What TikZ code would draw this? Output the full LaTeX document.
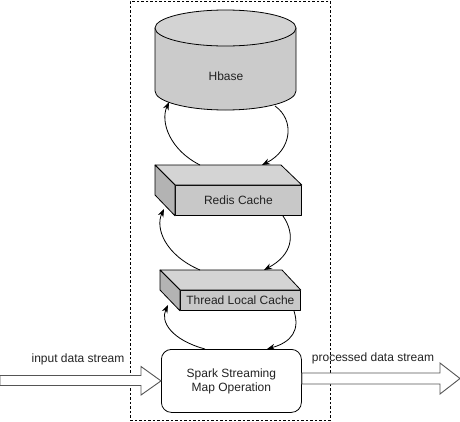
\documentclass[tikz,border=0pt]{standalone}
\usepackage{fontspec}
\setmainfont{Liberation Sans}
\usetikzlibrary{arrows.meta}
\definecolor{topface}{HTML}{D4D4D4}
\definecolor{sideface}{HTML}{B3B3B3}
\definecolor{frontface}{HTML}{C8C8C8}
\definecolor{cylbody}{HTML}{CBCBCB}
\definecolor{cyltop}{HTML}{D3D3D3}
\definecolor{txt}{HTML}{222222}
\definecolor{bigarrow}{HTML}{555555}
\begin{document}
\begin{tikzpicture}[x=1pt,y=-1pt,
  every node/.style={font=\fontsize{12}{14}\selectfont, text=txt},
  shapeline/.style={draw=black, line width=0.8pt, line join=round},
  flow/.style={draw=black, line width=0.8pt, -{Stealth[length=8pt,width=6pt]}},
  blockarrow/.style={draw=bigarrow, fill=white, line width=0.9pt, line join=miter},
  frontbox/.style={shapeline, fill=frontface, inner sep=0pt, anchor=north west}]
\useasboundingbox (0,0) rectangle (460,421);
% dashed container
\node[draw=black, dashed, line width=0.7pt, dash pattern=on 2.5pt off 2pt, minimum width=200pt, minimum height=419pt, anchor=north west, inner sep=0pt] (frame) at (130,1) {};
% Hbase cylinder
\path[shapeline, fill=cylbody] (155,28) -- (155,91) arc[start angle=180, end angle=360, x radius=70.5, y radius=-19] -- (296,28) -- cycle;
\path[shapeline, fill=cyltop] (225.5,28) ellipse[x radius=70.5, y radius=18];
\node (hb) at (226,76) {Hbase};
\coordinate (hbL) at (169,102);
\coordinate (hbR) at (275,106);
% Redis Cache box
\node[frontbox, minimum width=126pt, minimum height=30pt] (rc) at (175,185) {};
\node at (rc.center) {Redis Cache};
\path[shapeline, fill=topface] (rc.north west) -- ++(-20,-20) -- ++(126,0) -- (rc.north east) -- cycle;
\path[shapeline, fill=sideface] (rc.north west) -- ++(-20,-20) -- ++(0,30) -- (rc.south west) -- cycle;
\coordinate (rcT1) at (200,165);
\coordinate (rcT2) at (262,165);
\coordinate (rcL) at (164,209);
\coordinate (rcB) at (283,216);
% Thread Local Cache box
\node[frontbox, minimum width=120pt, minimum height=20pt] (tl) at (180,290) {};
\node at (tl.center) {Thread Local Cache};
\path[shapeline, fill=topface] (tl.north west) -- ++(-20,-20) -- ++(122,0) -- (tl.north east) -- cycle;
\path[shapeline, fill=sideface] (tl.north west) -- ++(-20,-20) -- ++(0,20) -- (tl.south west) -- cycle;
\coordinate (tlT1) at (200,270);
\coordinate (tlT2) at (264,270);
\coordinate (tlL) at (168,305);
\coordinate (tlB) at (294,311);
% Spark box
\node[shapeline, fill=white, rounded corners=10pt, minimum width=140pt, minimum height=63pt, anchor=north west, inner sep=0pt, align=center] (sp) at (161,349) {Spark Streaming\\Map Operation};
\coordinate (spT1) at (205,349);
\coordinate (spT2) at (267,349);
% curved connectors
\draw[flow] (rcT1) .. controls (170,150) and (160,122) .. (hbL);
\draw[flow] (hbR) .. controls (295,120) and (292,150) .. (rcT2);
\draw[flow] (tlT1) .. controls (165,255) and (155,228) .. (rcL);
\draw[flow] (rcB) .. controls (296,235) and (292,255) .. (tlT2);
\draw[flow] (spT1) .. controls (172,340) and (160,322) .. (tlL);
\draw[flow] (tlB) .. controls (300,330) and (292,342) .. (spT2);
% input block arrow
\path[blockarrow] (0,375.5) -- (141,375.5) -- (141,366.5) -- (sp.west) -- (141,395) -- (141,385.5) -- (0,385.5) -- cycle;
\node (inl) at (78,359) {input data stream};
% output block arrow
\coordinate (outtip) at (460,378.5);
\path[blockarrow] (sp.east |- 0,373) -- (440,373) -- (440,363) -- (outtip) -- (440,394) -- (440,384) -- (sp.east |- 0,384) -- cycle;
\node (outl) at (373,358) {processed data stream};
\end{tikzpicture}
\end{document}
